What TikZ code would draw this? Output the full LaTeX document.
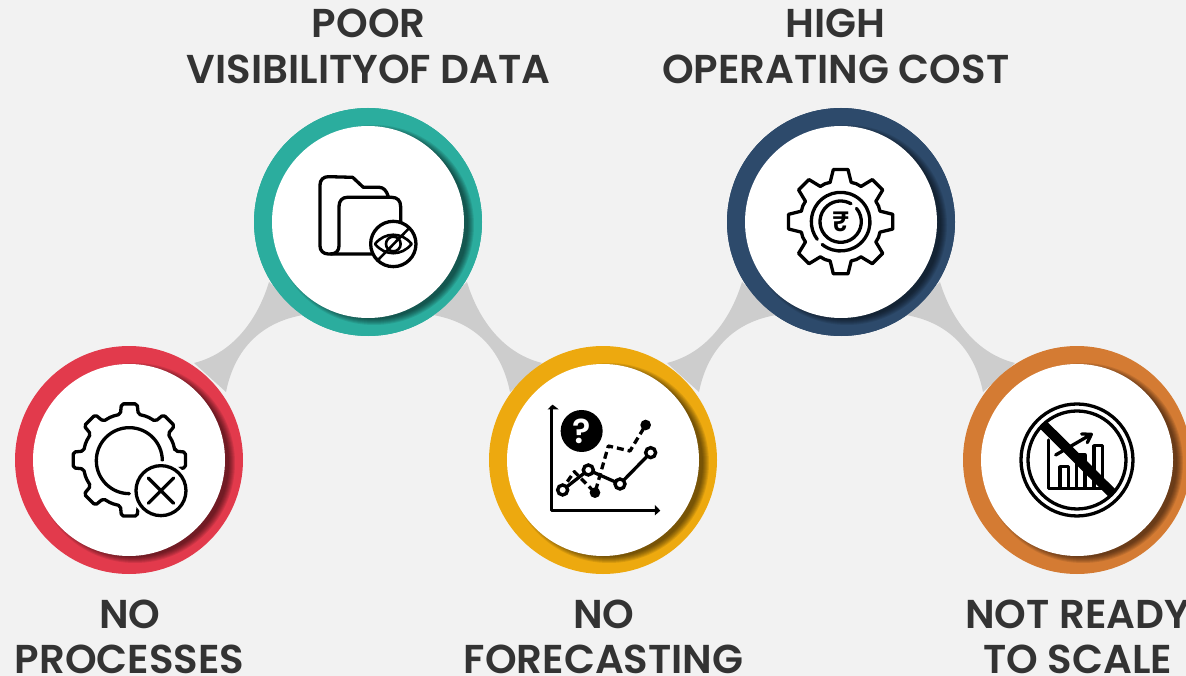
\documentclass[tikz,border=0pt]{standalone}
\usepackage{fontspec}
\setmainfont{Poppins}[BoldFont={Poppins SemiBold}]
\definecolor{bgc}{HTML}{F2F2F2}
\definecolor{linkc}{HTML}{CDCDCD}
\definecolor{txtc}{HTML}{333333}
\definecolor{redc}{HTML}{E23A4C}
\definecolor{tealc}{HTML}{2BAD9E}
\definecolor{yelc}{HTML}{EDA90F}
\definecolor{navyc}{HTML}{2D4A6B}
\definecolor{orac}{HTML}{D47B33}
\tikzset{
  ringnode/.style={circle,inner sep=0pt,minimum size=228pt,fill=#1},
  disc/.style={circle,inner sep=0pt,minimum size=192pt,fill=white},
  caption/.style={align=center,text=txtc,font=\fontsize{40.3}{45.5}\selectfont\bfseries},
  ink/.style={draw=black,line width=3.3pt,line join=round,line cap=round},
  linkshape/.style={fill=linkc,draw=none},
}
% badge: ring, soft shadow clipped to the ring, white disc
\newcommand{\badge}[4]{%
  \node[ringnode=#4] (#1) at (#2,#3) {};
  \begin{scope}
    \clip (#2,#3) circle (114);
    \foreach \rr in {100,99,98,97,96,95,94}
      \fill[black,opacity=.09] (#2+6,#3+3) circle (\rr);
  \end{scope}
  \node[disc] (#1in) at (#2,#3) {};
}
% connectors hang from an upper badge, down-left and down-right
\newcommand{\linkleft}[1]{%
  \begin{scope}[shift={(#1.center)}]
    \fill[linkshape] (-99,60) .. controls (-108,90) and (-130,130) .. (-174,141)
       -- (-142,170) .. controls (-133,125) and (-105,100) .. (-65,93) -- cycle;
  \end{scope}}
\newcommand{\linkright}[1]{%
  \begin{scope}[shift={(#1.center)}]
    \fill[linkshape] (99,60) .. controls (108,90) and (130,130) .. (174,141)
       -- (142,170) .. controls (133,125) and (105,100) .. (65,93) -- cycle;
  \end{scope}}
\newcommand{\gearoutline}[5]{% tooth step, R1, R2, half angle base, half angle top
  (-#4:#2) \foreach \a in {0,#1,...,359} {
    -- (\a-#4:#2) -- (\a-#5:#3) -- (\a+#5:#3) -- (\a+#4:#2) -- (\a+#1/2:#2+1)
  } -- cycle}
\begin{document}
\begin{tikzpicture}[x=1pt,y=-1pt]
\useasboundingbox (0,0) rectangle (1186,676);
\fill[bgc] (0,0) rectangle (1186,676);
\coordinate (tealpos) at (368,222);
\coordinate (navypos) at (841,222);
\node[ringnode=tealc] (teal) at (tealpos) {};
\node[ringnode=navyc] (navy) at (navypos) {};
\linkleft{teal}\linkright{teal}\linkleft{navy}\linkright{navy}
\badge{red}{129}{460}{redc}
\badge{teal}{368}{222}{tealc}
\badge{yellow}{603}{460}{yelc}
\badge{navy}{841}{222}{navyc}
\badge{orange}{1077}{460}{orac}

% icon: gear with cross
\begin{scope}[shift={(0,340)},x=.3333pt,y=-.3333pt]
  \begin{scope}[shift={(388,360)}]
    \draw[ink,rounded corners=2pt] \gearoutline{45}{140}{170}{11}{8};
    \draw[ink] (99,2) arc[start angle=0,end angle=-270,radius=99];
  \end{scope}
  \fill[white] (483,452) circle (88);
  \draw[ink] (483,452) circle (75);
  \draw[ink] (445,414) -- (521,490) (521,414) -- (445,490);
\end{scope}

% icon: folders with crossed eye
\begin{scope}[shift={(240,100)},x=.3333pt,y=-.3333pt]
  \draw[ink] (445,290) .. controls (440,272) and (430,262) .. (418,262) -- (370,262)
     -- (338,232) -- (265,230) .. controls (250,230) and (240,240) .. (240,255) -- (240,438)
     .. controls (240,452) and (250,462) .. (265,462) -- (395,462);
  \draw[ink] (272,462) .. controls (288,462) and (297,452) .. (297,438) -- (297,320)
     .. controls (297,302) and (307,292) .. (322,292) -- (455,292)
     .. controls (472,292) and (482,302) .. (482,320) -- (482,370);
  \fill[white] (460,432) circle (68);
  \draw[ink] (460,432) circle (68);
  \draw[ink,line width=2.6pt] (405,432) .. controls (435,395) and (485,395) .. (515,432)
     .. controls (485,469) and (435,469) .. (405,432) -- cycle;
  \draw[ink,line width=2.6pt] (460,432) circle (22);
  \draw[ink,line width=2.6pt] (412,482) -- (508,384);
\end{scope}

% icon: chart with question mark
\begin{scope}[shift={(480,340)},x=.3333pt,y=-.3333pt]
  \draw[ink,line width=3.4pt] (215,202) -- (215,512) -- (533,512);
  \fill (203,208) -- (218,194) -- (236,208) -- cycle;
  \fill (525,495) -- (541,512) -- (525,526) -- cycle;
  \node[circle,fill=black,minimum size=42pt,inner sep=0pt,text=white,
        font=\fontsize{34}{34}\selectfont\bfseries] (qmark) at (305,273) {?};
  \draw[ink,dash pattern=on 7pt off 4pt,line cap=butt] (262,425) -- (283,395) -- (345,458) -- (385,318) -- (450,333) -- (497,255);
  \fill (345,458) circle (16);
  \fill (497,255) circle (16);
  \draw[ink] (248,450) -- (325,390) -- (420,432) -- (512,338);
  \foreach \p in {(248,450),(325,390),(420,432),(512,338)}
    \filldraw[fill=white,draw=black,line width=3.4pt] \p circle (15);
\end{scope}

% icon: gear with rupee
\begin{scope}[shift={(720,100)},x=.3333pt,y=-.3333pt]
  \begin{scope}[shift={(362,365)}]
    \draw[ink] \gearoutline{45}{122}{158}{15}{8};
    \draw[ink] (129:88) arc[start angle=129,end angle=-217,radius=88];
    \draw[ink] (-40:62) arc[start angle=-40,end angle=300,radius=62];
    \node[font=\fontsize{28}{28}\selectfont\bfseries] (rupee) at (0,0) {₹};
  \end{scope}
\end{scope}

% icon: crossed-out growth chart
\begin{scope}[shift={(950,340)},x=.3333pt,y=-.3333pt]
  \draw[ink] (381,360) circle (168);
  \draw[ink] (381,360) circle (147);
  \draw[ink] (295,300) -- (295,445) -- (460,445);
  \draw[ink] (330,445) -- (330,380) -- (355,380) -- (355,445);
  \draw[ink] (380,445) -- (380,345) -- (405,345) -- (405,445);
  \draw[ink] (432,445) -- (432,317) -- (458,317) -- (458,445);
  \draw[ink] (317,345) -- (422,284) (395,282) -- (424,283) -- (412,308);
  \draw[black,line width=10pt,line cap=butt] (280,255) -- (487,460);
\end{scope}

\node[caption] (t1) at (368.7,46.5) {POOR\\VISIBILITYOF DATA};
\node[caption] (t2) at (835.7,46.5) {HIGH\\OPERATING COST};
\node[caption] (t3) at (129.7,637) {NO\\PROCESSES};
\node[caption] (t4) at (603.7,637) {NO\\FORECASTING};
\node[caption] (t5) at (1077.7,637) {NOT READY\\TO SCALE};
\end{tikzpicture}
\end{document}
